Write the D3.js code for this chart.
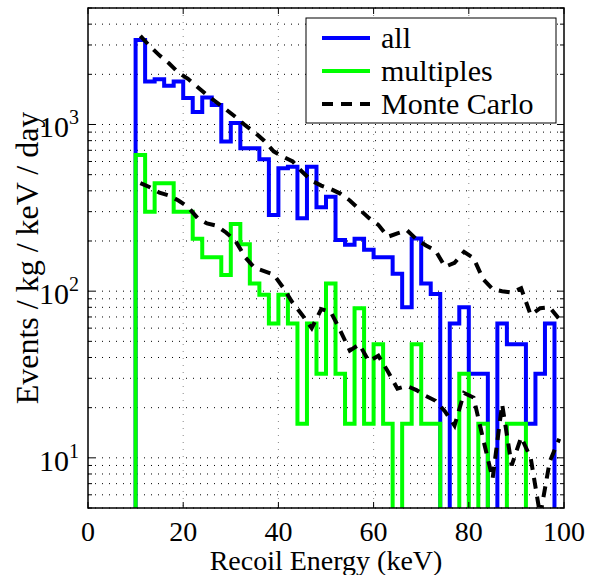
<!DOCTYPE html>
<html>
<head>
<meta charset="utf-8">
<script src="https://cdn.jsdelivr.net/npm/d3@7"></script>
<style>
  body { margin: 0; background: #fff; font-family: "Liberation Serif", serif; }
</style>
</head>
<body>
<div id="vis"></div>
<script>
// bin left edges (keV), 2 keV wide
const binEdges = [10, 12, 14, 16, 18, 20, 22, 24, 26, 28, 30, 32, 34, 36, 38, 40, 42, 44, 46, 48, 50,
  52, 54, 56, 58, 60, 62, 64, 66, 68, 70, 72, 74, 76, 78, 80, 82, 84, 86, 88, 90, 92, 94, 96];
const binEnd = 98;

const allRate = [3210, 1810, 1870, 1710, 1810, 1440, 1190, 1450, 1310, 790, 1020, 720, 720, 618, 286, 546,
  558, 274, 558, 319, 369, 203, 190, 206, 177, 160, 160, 127, 80, 207, 111, 96, 0, 64, 80, 32, 32, 0,
  64, 48, 48, 16, 32, 64];

const multRate = [656, 300, 444, 444, 300, 300, 206, 160, 160, 125, 253, 191, 111, 95, 64, 95, 64, 16,
  64, 32, 111, 32, 16, 79, 16, 48, 16, 0, 16, 48, 16, 16, 0, 0, 32, 0, 16, 0, 0, 16, 16, 0, 0, 0];

// Monte Carlo at bin centres
const mcEnergy = [11, 13, 15, 17, 19, 21, 23, 25, 27, 29, 31, 33, 35, 37, 39, 41, 43, 45, 47, 49, 51, 53,
  55, 57, 59, 61, 63, 65, 67, 69, 71, 73, 75, 77, 79, 81, 83, 85, 87, 89, 91, 93, 95, 97, 99];
const mcAll = [3400, 2950, 2600, 2330, 2050, 1880, 1680, 1500, 1360, 1230, 1110, 990, 900, 800, 690, 640,
  600, 520, 460, 430, 410, 385, 350, 310, 275, 250, 212, 222, 232, 205, 188, 175, 140, 148, 172, 158,
  118, 103, 100, 98, 104, 72, 79, 80, 68];
const mcMult = [445, 420, 390, 375, 350, 320, 275, 255, 247, 225, 200, 160, 138, 132, 126, 105, 85, 72,
  60, 78, 75, 58, 44, 48, 38, 41, 33, 26, 27, 25.5, 23.5, 22, 19, 15.6, 24.5, 23, 13, 7.5, 21, 9, 13.3,
  10, 4.5, 9.5, 13];

const xTicks = [0, 20, 40, 60, 80, 100];
const yMajor = [10, 100, 1000];

const width = 589, height = 575;
const margin = { top: 8, right: 25, bottom: 67, left: 88 };
const FONT = "Liberation Serif";

const svg = d3.select("#vis").append("svg")
  .attr("width", width)
  .attr("height", height);

const x = d3.scaleLinear().domain([0, 100]).range([margin.left, width - margin.right]);
const y = d3.scaleLog().domain([5, 5000]).range([height - margin.bottom, margin.top]);

const x0 = x.range()[0], x1 = x.range()[1], y0 = y.range()[0], y1 = y.range()[1];

// minor log values inside the domain
const yMinor = [];
[1, 10, 100, 1000].forEach(d => {
  for (let k = 2; k <= 9; k++) {
    const v = d * k;
    if (v >= 5 && v <= 5000) yMinor.push(v);
  }
});

// grid
const grid = svg.append("g");
grid.selectAll("line.hg")
  .data(yMinor.concat(yMajor))
  .enter().append("line")
  .attr("x1", x0).attr("x2", x1)
  .attr("y1", d => y(d)).attr("y2", d => y(d))
  .attr("stroke", "#000")
  .attr("stroke-width", 1)
  .attr("stroke-dasharray", "1,6");

grid.selectAll("line.vg")
  .data(xTicks.slice(1, -1))
  .enter().append("line")
  .attr("x1", d => x(d)).attr("x2", d => x(d))
  .attr("y1", y1).attr("y2", y0)
  .attr("stroke", "#888")
  .attr("stroke-width", 1)
  .attr("stroke-dasharray", "1,6");

svg.append("clipPath").attr("id", "clip")
  .append("rect")
  .attr("x", x0).attr("y", y1)
  .attr("width", x1 - x0).attr("height", y0 - y1);

const plot = svg.append("g").attr("clip-path", "url(#clip)");

const floor = 1;
function stairs(vals) {
  const pts = [[binEdges[0], floor]];
  vals.forEach((v, i) => pts.push([binEdges[i], v > 0 ? v : floor]));
  pts.push([binEnd, floor]);
  return d3.line()
    .x(d => x(d[0]))
    .y(d => y(d[1]))
    .curve(d3.curveStepAfter)(pts);
}

plot.append("path")
  .attr("d", stairs(allRate))
  .attr("fill", "none")
  .attr("stroke", "#0000ff")
  .attr("stroke-width", 4);

plot.append("path")
  .attr("d", stairs(multRate))
  .attr("fill", "none")
  .attr("stroke", "#00ff00")
  .attr("stroke-width", 4);

const mcLine = d3.line()
  .x((d, i) => x(mcEnergy[i]))
  .y(d => y(d));

[mcAll, mcMult].forEach(series => {
  plot.append("path")
    .attr("d", mcLine(series))
    .attr("fill", "none")
    .attr("stroke", "#000")
    .attr("stroke-width", 4)
    .attr("stroke-dasharray", "11,8");
});

// frame and ticks
const axes = svg.append("g").attr("stroke", "#000");
axes.append("rect")
  .attr("x", x0).attr("y", y1)
  .attr("width", x1 - x0).attr("height", y0 - y1)
  .attr("fill", "none")
  .attr("stroke-width", 1.5);

xTicks.forEach(t => {
  axes.append("line").attr("x1", x(t)).attr("x2", x(t)).attr("y1", y0).attr("y2", y0 - 6);
  axes.append("line").attr("x1", x(t)).attr("x2", x(t)).attr("y1", y1).attr("y2", y1 + 6);
});
yMajor.forEach(t => {
  axes.append("line").attr("x1", x0).attr("x2", x0 + 7).attr("y1", y(t)).attr("y2", y(t));
  axes.append("line").attr("x1", x1).attr("x2", x1 - 7).attr("y1", y(t)).attr("y2", y(t));
});
yMinor.forEach(t => {
  axes.append("line").attr("x1", x0).attr("x2", x0 + 4).attr("y1", y(t)).attr("y2", y(t));
  axes.append("line").attr("x1", x1).attr("x2", x1 - 4).attr("y1", y(t)).attr("y2", y(t));
});

// tick labels
svg.append("g").selectAll("text")
  .data(xTicks)
  .enter().append("text")
  .attr("x", d => x(d))
  .attr("y", y0 + 33)
  .attr("text-anchor", "middle")
  .attr("font-family", FONT)
  .attr("font-size", 28)
  .text(d => d);

yMajor.forEach(t => {
  const lbl = svg.append("text")
    .attr("x", x0 - 9)
    .attr("y", y(t) + 13)
    .attr("text-anchor", "end")
    .attr("font-family", FONT)
    .attr("font-size", 30);
  lbl.append("tspan").attr("font-family", FONT).text("10");
  lbl.append("tspan")
    .attr("dy", -13)
    .attr("font-family", FONT)
    .attr("font-size", 20)
    .text(Math.round(Math.log10(t)));
});

svg.append("text")
  .attr("x", (x0 + x1) / 2)
  .attr("y", 570)
  .attr("text-anchor", "middle")
  .attr("font-family", FONT)
  .attr("font-size", 28)
  .text("Recoil Energy (keV)");

svg.append("text")
  .attr("transform", `translate(38,${(y0 + y1) / 2}) rotate(-90)`)
  .attr("text-anchor", "middle")
  .attr("font-family", FONT)
  .attr("font-size", 32)
  .text("Events / kg / keV / day");

// legend
const legend = svg.append("g");
legend.append("rect")
  .attr("x", 306).attr("y", 18)
  .attr("width", 250).attr("height", 105)
  .attr("fill", "#fff")
  .attr("stroke", "#000")
  .attr("stroke-width", 1);

const legendItems = [
  { label: "all", color: "#0000ff", dash: null },
  { label: "multiples", color: "#00ff00", dash: null },
  { label: "Monte Carlo", color: "#000", dash: "11,8" }
];
legendItems.forEach((d, i) => {
  const ly = 38 + i * 33;
  legend.append("line")
    .attr("x1", 322).attr("x2", 370)
    .attr("y1", ly).attr("y2", ly)
    .attr("stroke", d.color)
    .attr("stroke-width", 4)
    .attr("stroke-dasharray", d.dash);
  legend.append("text")
    .attr("x", 381).attr("y", ly + 10)
    .attr("font-family", FONT)
    .attr("font-size", 30)
    .text(d.label);
});
</script>
</body>
</html>
